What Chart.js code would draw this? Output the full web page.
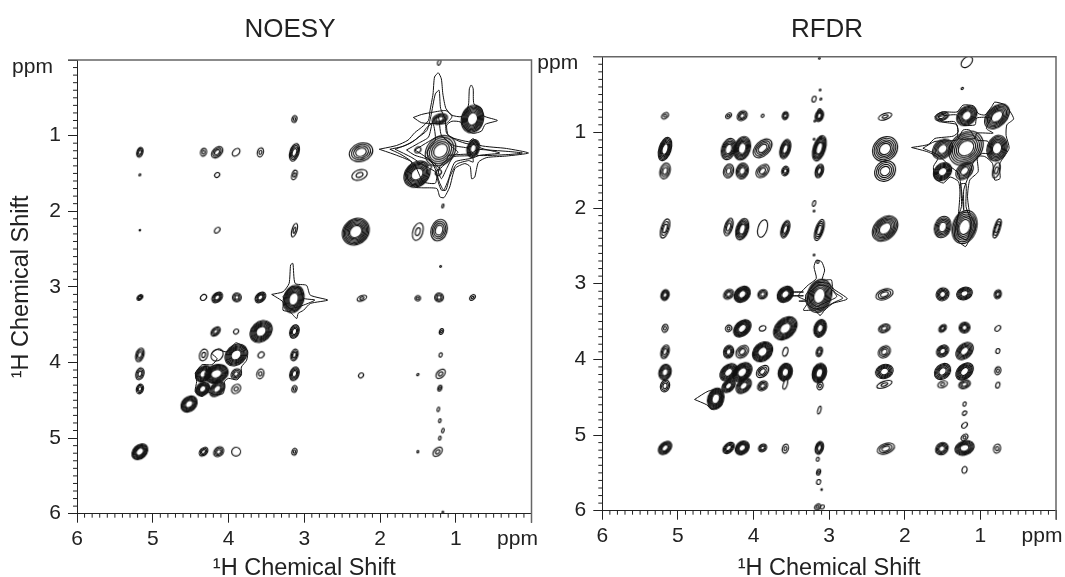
<!DOCTYPE html>
<html>
<head>
<meta charset="utf-8">
<title>NOESY / RFDR</title>
<script src="https://cdn.jsdelivr.net/npm/chart.js@4"></script>
<style>
html, body { margin: 0; padding: 0; background: #fff; overflow: hidden; width: 1065px; height: 577px; }
canvas { position: absolute; top: 0; }
#graficoNoesy { left: 0; }
#graficoRfdr { left: 534px; }
</style>
</head>
<body>
<canvas id="graficoNoesy" width="580" height="577"></canvas>
<canvas id="graficoRfdr" width="586" height="577"></canvas>
<script>
// axis values (ppm)
var majorTicks = [0, 1, 2, 3, 4, 5, 6];
var minorTicks = [];
for (var m = 0; m <= 60; m++) { if (m % 10) minorTicks.push(m / 10); }

// cross peaks: [F2 ppm, F1 ppm, half width F2, half width F1, contour levels]
var noesyPeaks = [
    [1.22, 0.03, 0.02, 0.04, 1],
    [3.13, 0.78, 0.033, 0.046, 2], [1.21, 0.78, 0.106, 0.066, 4], [0.78, 0.78, 0.145, 0.185, 7],
    [5.17, 1.22, 0.04, 0.066, 3], [4.33, 1.22, 0.04, 0.053, 2], [4.15, 1.22, 0.066, 0.08, 3],
    [3.9, 1.22, 0.046, 0.053, 1], [3.58, 1.22, 0.04, 0.06, 2], [3.13, 1.22, 0.06, 0.119, 4],
    [2.25, 1.22, 0.159, 0.119, 4], [1.2, 1.2, 0.2, 0.2, 5], [0.77, 1.17, 0.08, 0.119, 5], [1.5, 1.19, 0.04, 0.04, 1],
    [5.17, 1.52, 0.013, 0.013, 1], [4.15, 1.52, 0.033, 0.033, 1], [3.13, 1.52, 0.033, 0.066, 2],
    [2.27, 1.52, 0.106, 0.066, 2], [1.51, 1.51, 0.172, 0.172, 7], [1.23, 1.49, 0.04, 0.04, 1], [1.35, 1.42, 0.03, 0.03, 1],
    [1.17, 1.93, 0.013, 0.026, 1],
    [5.17, 2.25, 0.01, 0.01, 1], [4.15, 2.25, 0.033, 0.04, 1], [3.13, 2.25, 0.033, 0.092, 2],
    [2.32, 2.27, 0.185, 0.172, 7], [1.5, 2.27, 0.066, 0.119, 2], [1.22, 2.25, 0.106, 0.145, 4],
    [1.2, 2.73, 0.012, 0.012, 1],
    [5.17, 3.14, 0.033, 0.04, 3], [4.33, 3.14, 0.04, 0.04, 1], [4.15, 3.14, 0.066, 0.073, 4],
    [3.89, 3.14, 0.066, 0.053, 3], [3.58, 3.14, 0.066, 0.073, 4], [3.14, 3.16, 0.132, 0.185, 7],
    [2.24, 3.15, 0.066, 0.033, 2], [1.5, 3.15, 0.04, 0.033, 2], [1.22, 3.14, 0.066, 0.053, 3], [0.78, 3.14, 0.033, 0.04, 2],
    [4.17, 3.59, 0.053, 0.066, 3], [3.9, 3.59, 0.033, 0.033, 1], [3.57, 3.59, 0.145, 0.145, 7],
    [3.13, 3.59, 0.06, 0.092, 4], [1.19, 3.59, 0.026, 0.04, 2],
    [5.17, 3.9, 0.053, 0.092, 3], [4.33, 3.9, 0.053, 0.08, 2], [4.15, 3.9, 0.08, 0.08, 1], [3.9, 3.9, 0.145, 0.145, 7],
    [3.57, 3.9, 0.04, 0.04, 1], [3.13, 3.9, 0.046, 0.08, 3], [1.2, 3.9, 0.02, 0.03, 1],
    [5.17, 4.15, 0.053, 0.08, 3], [4.33, 4.15, 0.106, 0.106, 6], [4.16, 4.15, 0.159, 0.119, 7], [3.9, 4.15, 0.066, 0.066, 3],
    [3.58, 4.15, 0.046, 0.066, 2], [3.13, 4.15, 0.06, 0.092, 4], [2.25, 4.17, 0.033, 0.033, 1],
    [1.5, 4.16, 0.013, 0.016, 1], [1.2, 4.15, 0.053, 0.066, 2],
    [5.17, 4.35, 0.046, 0.066, 3], [4.34, 4.35, 0.092, 0.092, 6], [4.15, 4.35, 0.092, 0.106, 5], [3.9, 4.35, 0.06, 0.06, 2],
    [3.13, 4.35, 0.033, 0.046, 2], [1.21, 4.34, 0.026, 0.04, 2],
    [4.52, 4.55, 0.106, 0.106, 6],
    [1.23, 4.62, 0.016, 0.03, 1], [1.21, 4.77, 0.016, 0.026, 1], [1.17, 4.9, 0.016, 0.03, 1], [1.21, 5.0, 0.016, 0.026, 1],
    [5.17, 5.18, 0.1, 0.106, 6], [4.33, 5.18, 0.053, 0.06, 3], [4.13, 5.18, 0.066, 0.066, 3], [3.9, 5.18, 0.066, 0.053, 1],
    [3.13, 5.18, 0.033, 0.046, 2], [1.5, 5.18, 0.012, 0.016, 1], [1.24, 5.18, 0.053, 0.066, 2], [1.17, 5.98, 0.01, 0.014, 1]
];

var rfdrPeaks = [
    [3.13, 0.02, 0.012, 0.012, 1], [3.12, 0.44, 0.012, 0.012, 1], [3.2, 0.56, 0.026, 0.04, 1], [3.11, 0.56, 0.013, 0.013, 1],
    [3.13, 0.72, 0.02, 0.033, 1], [3.19, 0.85, 0.012, 0.012, 1], [1.24, 0.42, 0.013, 0.016, 1], [1.18, 0.07, 0.066, 0.08, 1],
    [5.17, 0.78, 0.04, 0.046, 2], [4.33, 0.78, 0.033, 0.04, 2], [4.15, 0.78, 0.066, 0.066, 3], [3.88, 0.78, 0.02, 0.02, 1],
    [3.58, 0.78, 0.04, 0.053, 3], [3.13, 0.78, 0.053, 0.08, 4],
    [2.26, 0.79, 0.092, 0.04, 2], [1.51, 0.79, 0.092, 0.053, 3], [1.18, 0.78, 0.132, 0.132, 6], [0.78, 0.79, 0.145, 0.172, 6],
    [3.2, 1.09, 0.012, 0.012, 1], [3.11, 1.07, 0.012, 0.016, 1],
    [5.17, 1.22, 0.08, 0.159, 6], [4.33, 1.22, 0.092, 0.145, 5], [4.15, 1.21, 0.106, 0.159, 6], [3.88, 1.21, 0.106, 0.132, 4],
    [3.58, 1.22, 0.066, 0.132, 5], [3.13, 1.21, 0.08, 0.172, 6],
    [2.26, 1.22, 0.172, 0.159, 5], [1.5, 1.22, 0.132, 0.132, 5], [1.19, 1.21, 0.225, 0.225, 6], [0.78, 1.21, 0.132, 0.172, 6],
    [5.17, 1.51, 0.066, 0.106, 3], [4.33, 1.51, 0.066, 0.092, 3], [4.15, 1.51, 0.08, 0.106, 4], [3.88, 1.51, 0.08, 0.092, 3],
    [3.58, 1.51, 0.046, 0.066, 3], [3.13, 1.51, 0.053, 0.092, 4],
    [2.26, 1.51, 0.145, 0.132, 4], [1.5, 1.52, 0.119, 0.119, 6], [1.21, 1.51, 0.106, 0.119, 4], [0.79, 1.5, 0.046, 0.106, 2],
    [3.2, 1.94, 0.02, 0.04, 1], [3.2, 2.04, 0.012, 0.012, 1],
    [5.17, 2.27, 0.053, 0.132, 3], [4.33, 2.25, 0.053, 0.119, 3], [4.15, 2.28, 0.08, 0.145, 5], [3.88, 2.27, 0.06, 0.119, 1],
    [3.58, 2.28, 0.053, 0.119, 4], [3.13, 2.29, 0.053, 0.145, 4],
    [2.26, 2.27, 0.159, 0.172, 6], [1.5, 2.25, 0.106, 0.145, 5], [1.21, 2.25, 0.159, 0.225, 6], [0.78, 2.27, 0.04, 0.132, 3],
    [3.15, 2.71, 0.016, 0.02, 1], [3.2, 2.62, 0.012, 0.012, 1],
    [5.17, 3.15, 0.053, 0.073, 4], [4.33, 3.14, 0.066, 0.066, 3], [4.15, 3.14, 0.106, 0.106, 7], [3.88, 3.14, 0.066, 0.06, 3],
    [3.58, 3.14, 0.106, 0.106, 7], [3.13, 3.16, 0.159, 0.225, 7],
    [2.27, 3.14, 0.119, 0.066, 3], [1.5, 3.14, 0.092, 0.08, 4], [1.21, 3.13, 0.106, 0.08, 5], [0.77, 3.14, 0.046, 0.06, 3],
    [5.17, 3.59, 0.04, 0.053, 2], [4.33, 3.59, 0.046, 0.04, 2], [4.15, 3.59, 0.106, 0.119, 7], [3.88, 3.59, 0.046, 0.033, 1],
    [3.58, 3.59, 0.145, 0.159, 7], [3.12, 3.59, 0.08, 0.119, 6],
    [2.27, 3.59, 0.08, 0.053, 3], [1.5, 3.59, 0.046, 0.053, 3], [1.21, 3.58, 0.08, 0.066, 4], [0.77, 3.59, 0.033, 0.04, 1],
    [5.17, 3.9, 0.053, 0.092, 3], [4.33, 3.9, 0.066, 0.086, 4], [4.15, 3.9, 0.08, 0.086, 3], [3.88, 3.9, 0.132, 0.132, 7],
    [3.58, 3.9, 0.033, 0.06, 1], [3.13, 3.9, 0.04, 0.066, 3],
    [2.27, 3.9, 0.08, 0.08, 3], [1.5, 3.89, 0.08, 0.08, 4], [1.21, 3.89, 0.106, 0.119, 5], [0.77, 3.89, 0.026, 0.033, 1],
    [5.17, 4.17, 0.08, 0.106, 5], [4.33, 4.17, 0.106, 0.119, 6], [4.15, 4.17, 0.119, 0.132, 7], [3.88, 4.16, 0.073, 0.086, 3],
    [3.58, 4.17, 0.092, 0.119, 7], [3.13, 4.18, 0.092, 0.132, 7],
    [2.27, 4.16, 0.119, 0.092, 5], [1.5, 4.16, 0.106, 0.106, 5], [1.21, 4.16, 0.106, 0.119, 6], [0.77, 4.15, 0.04, 0.053, 2],
    [5.17, 4.35, 0.06, 0.08, 3], [4.33, 4.35, 0.08, 0.092, 5], [4.13, 4.35, 0.092, 0.106, 5], [3.88, 4.35, 0.066, 0.066, 3],
    [3.58, 4.33, 0.026, 0.066, 1], [3.12, 4.35, 0.04, 0.053, 2],
    [2.27, 4.33, 0.106, 0.04, 2], [1.5, 4.33, 0.066, 0.04, 2], [1.21, 4.33, 0.08, 0.053, 3], [0.77, 4.34, 0.026, 0.04, 1],
    [4.5, 4.52, 0.106, 0.145, 7], [3.13, 4.67, 0.02, 0.053, 1],
    [1.21, 4.59, 0.02, 0.03, 1], [1.21, 4.71, 0.026, 0.03, 1], [1.21, 4.87, 0.033, 0.04, 1], [1.21, 5.03, 0.04, 0.046, 2],
    [5.17, 5.17, 0.08, 0.092, 5], [4.33, 5.17, 0.066, 0.08, 4], [4.15, 5.17, 0.092, 0.092, 6], [3.88, 5.17, 0.053, 0.053, 3],
    [3.58, 5.18, 0.04, 0.06, 2], [3.13, 5.17, 0.053, 0.086, 4],
    [2.25, 5.18, 0.119, 0.066, 3], [1.51, 5.18, 0.086, 0.08, 4], [1.21, 5.17, 0.132, 0.092, 6], [0.78, 5.18, 0.046, 0.06, 2],
    [1.21, 5.46, 0.033, 0.046, 1],
    [3.15, 5.32, 0.02, 0.026, 1], [3.14, 5.49, 0.026, 0.04, 2], [3.14, 5.62, 0.026, 0.033, 1], [3.1, 5.72, 0.01, 0.01, 1],
    [3.15, 5.95, 0.04, 0.04, 2], [3.09, 5.95, 0.026, 0.026, 1]
];

// outlines traced off the strong diagonal groups: [F2, F1, F2, F1, ...]
var noesyOuter = [2.01,1.18, 1.78,1.13, 1.63,1.06, 1.54,0.96, 1.45,0.89, 1.36,0.8, 1.34,0.67, 1.3,0.45, 1.28,0.225, 1.23,0.17, 1.19,0.25, 1.17,0.45, 1.13,0.64, 1.05,0.73, 0.93,0.75, 0.86,0.69, 0.83,0.58, 0.82,0.38, 0.795,0.33, 0.77,0.38, 0.76,0.58, 0.66,0.64, 0.63,0.74, 0.45,0.8, 0.61,0.85, 0.66,0.94, 0.77,0.97, 0.86,0.92, 0.94,0.82, 1.05,0.81, 1.12,0.86, 1.1,0.995, 1.01,1.04, 0.83,1.08, 0.77,1.04, 0.68,1.13, 0.33,1.17, 0.04,1.23, 0.33,1.27, 0.59,1.29, 0.7,1.35, 0.75,1.55, 0.79,1.57, 0.81,1.41, 0.88,1.37, 1.01,1.435, 1.08,1.68, 1.155,1.82, 1.21,1.81, 1.25,1.7, 1.45,1.69, 1.54,1.68, 1.67,1.52, 1.63,1.435, 1.58,1.35, 1.78,1.26];
var noesySecond = [1.8,1.18, 1.6,1.1, 1.49,1.02, 1.38,0.93, 1.33,0.75, 1.27,0.45, 1.22,0.4, 1.2,0.64, 1.14,0.78, 1.12,0.97, 0.99,1.06, 0.83,1.11, 0.77,1.06, 0.68,1.16, 0.42,1.23, 0.68,1.26, 0.79,1.3, 1.01,1.35, 1.1,1.59, 1.16,1.72, 1.21,1.63, 1.27,1.48, 1.43,1.39, 1.58,1.29];
var noesyThird = [1.65,1.19, 1.49,1.1, 1.36,1.02, 1.3,0.8, 1.23,0.75, 1.19,0.995, 1.03,1.13, 0.83,1.17, 0.81,1.26, 1.03,1.28, 1.12,1.435, 1.19,1.57, 1.25,1.435, 1.36,1.32, 1.54,1.26];
var noesyFourth = [1.54,1.19, 1.36,1.08, 1.25,1.02, 1.16,1.02, 1.05,1.15, 0.97,1.22, 1.05,1.28, 1.14,1.37, 1.21,1.435, 1.3,1.35, 1.43,1.26];
var noesyTop = [1.56,0.76, 1.45,0.72, 1.3,0.69, 1.13,0.67, 1.05,0.75, 1.13,0.84, 1.27,0.84, 1.45,0.83];
var noesyLobeLow = [1.1,1.26, 0.79,1.25, 0.77,1.35, 0.83,1.33, 0.99,1.38, 1.08,1.55, 1.13,1.72, 1.19,1.72, 1.24,1.57, 1.21,1.41, 1.12,1.32];
var noesyLobeLeft = [1.87,1.18, 1.69,1.14, 1.54,1.06, 1.43,0.96, 1.38,0.89, 1.3,0.84, 1.27,1.06, 1.38,1.22, 1.3,1.38, 1.25,1.5, 1.27,1.63, 1.43,1.61, 1.52,1.43, 1.6,1.33, 1.74,1.24];
var noesyTail = [0.72,1.18, 0.3,1.21, 0.12,1.23, 0.3,1.25, 0.72,1.26];
var noesyStarOuter = [3.43,3.1, 3.28,3.065, 3.2,2.955, 3.18,2.71, 3.15,2.69, 3.12,2.955, 2.97,2.98, 2.92,3.11, 2.69,3.175, 2.92,3.22, 3.01,3.31, 3.08,3.35, 3.1,3.42, 3.19,3.33, 3.28,3.31, 3.28,3.2];
var noesyStarInner = [3.28,3.13, 3.17,3.0, 3.06,3.02, 3.01,3.15, 2.86,3.175, 3.06,3.26, 3.19,3.285, 3.25,3.22];
var noesyCluster = [4.44,4.14, 4.35,4.03, 4.22,4.03, 4.15,3.95, 4.22,3.88, 4.15,3.83, 4.02,3.86, 3.9,3.74, 3.75,3.84, 3.76,3.97, 3.83,4.06, 3.83,4.165, 3.89,4.23, 4.0,4.21, 4.05,4.25, 4.07,4.41, 4.2,4.42, 4.27,4.39, 4.35,4.45, 4.44,4.385, 4.42,4.25];

var rfdrOuter = [1.91,1.2, 1.69,1.16, 1.6,1.08, 1.36,1.05, 1.29,0.99, 1.34,0.86, 1.54,0.86, 1.6,0.79, 1.51,0.73, 1.31,0.73, 1.23,0.64, 1.09,0.65, 1.03,0.75, 0.94,0.77, 0.85,0.66, 0.81,0.6, 0.67,0.64, 0.56,0.82, 0.65,0.9, 0.66,1.04, 0.62,1.21, 0.72,1.37, 0.75,1.43, 0.74,1.61, 0.81,1.63, 0.84,1.41, 0.94,1.32, 1.04,1.32, 1.03,1.52, 1.14,1.63, 1.17,1.85, 1.14,2.07, 1.06,2.25, 1.16,2.45, 1.2,2.51, 1.34,2.38, 1.29,2.07, 1.27,1.79, 1.29,1.65, 1.4,1.59, 1.49,1.67, 1.6,1.61, 1.62,1.45, 1.56,1.34, 1.69,1.26];
var rfdrSecond = [1.76,1.21, 1.6,1.12, 1.31,1.1, 1.23,0.97, 1.14,0.97, 1.05,1.1, 0.9,1.12, 0.85,1.28, 0.98,1.28, 1.09,1.39, 1.16,1.59, 1.22,1.76, 1.22,2.03, 1.25,1.76, 1.29,1.54, 1.4,1.45, 1.56,1.3];
var rfdrStem = [1.26,1.68, 1.19,1.68, 1.19,1.98, 1.12,2.2, 1.18,2.42, 1.29,2.36, 1.31,2.16, 1.25,1.98];
var rfdrTop = [1.56,0.79, 1.31,0.77, 1.23,0.9, 1.07,0.9, 1.05,0.81, 0.87,0.81, 0.92,0.95, 0.83,1.01, 1.05,1.01, 1.07,1.08, 1.29,1.08, 1.31,0.9, 1.51,0.86];
var rfdrStarOuter = [3.39,3.13, 3.28,3.02, 3.17,2.93, 3.2,2.78, 3.17,2.69, 3.1,2.71, 3.06,2.82, 3.09,2.95, 2.97,2.95, 2.95,3.06, 2.76,3.2, 2.95,3.26, 3.06,3.35, 3.12,3.42, 3.19,3.35, 3.34,3.35, 3.28,3.24, 3.41,3.17];
var rfdrStarMid = [3.17,2.98, 3.0,3.0, 2.92,3.12, 2.82,3.19, 2.92,3.24, 3.06,3.31, 3.2,3.33, 3.3,3.26, 3.31,3.15];
var rfdrStarInner = [3.28,3.13, 3.14,3.02, 3.01,3.04, 2.9,3.17, 3.03,3.24, 3.17,3.3, 3.25,3.24];
var rfdrBridgeA = [3.5,3.11, 3.34,3.11];
var rfdrBridgeB = [3.5,3.16, 3.34,3.16];
var rfdrBridgeC = [3.4,3.23, 3.3,3.23];
var rfdrSpike = [4.78,4.53, 4.6,4.42, 4.45,4.4, 4.42,4.6, 4.55,4.66, 4.62,4.6];

var corContorno = '#111';

// concentric rings of one peak, handed to Chart.js as the point image
function imagemPico(rx, ry, niveis) {
    var tela = document.createElement('canvas');
    var lado = Math.ceil(Math.max(rx, ry) * 2.3 + 6);
    tela.width = lado;
    tela.height = lado;
    var ctx = tela.getContext('2d');
    var giro = rx <= ry ? 0.3 : -0.35;
    // nearly round peaks still lean along the diagonal
    if (rx / ry > 0.8 && rx / ry < 1.25) {
        giro = 0.8;
        rx = rx * 0.88;
        ry = ry * 1.12;
    }
    ctx.strokeStyle = corContorno;
    ctx.lineWidth = 1.15;
    for (var i = 0; i < niveis; i++) {
        var f = niveis > 1 ? 1 - i * 0.55 / (niveis - 1) : 1;
        ctx.beginPath();
        ctx.ellipse(lado / 2, lado / 2, Math.max(rx * f, 0.6), Math.max(ry * f, 0.6), giro, 0, Math.PI * 2);
        if (i === niveis - 1) {
            ctx.fillStyle = '#fff';
            ctx.fill();
        }
        ctx.stroke();
    }
    return tela;
}

function estiloPico(contexto) {
    var p = contexto.raw;
    if (!p) return 'circle';
    var eixoX = contexto.chart.scales.x;
    var eixoY = contexto.chart.scales.y;
    var rx = Math.abs(eixoX.getPixelForValue(p.x + p.wx) - eixoX.getPixelForValue(p.x));
    var ry = Math.abs(eixoY.getPixelForValue(p.y + p.wy) - eixoY.getPixelForValue(p.y));
    return imagemPico(rx, ry, p.niveis);
}

function contorno(lista) {
    var pontos = [];
    for (var i = 0; i < lista.length; i += 2) {
        pontos.push({ x: lista[i], y: lista[i + 1] });
    }
    pontos.push({ x: lista[0], y: lista[1] });
    return {
        data: pontos,
        showLine: true,
        tension: 0.2,
        borderColor: corContorno,
        borderWidth: 1,
        pointRadius: 0
    };
}

// minor ticks, top and right frame lines, ppm labels
var molduraPlugin = {
    id: 'moldura',
    afterDraw: function(chart) {
        var ctx = chart.ctx;
        var area = chart.chartArea;
        ctx.save();
        ctx.strokeStyle = '#222';
        ctx.lineWidth = 1;
        minorTicks.forEach(function(v) {
            var px = chart.scales.x.getPixelForValue(v);
            var py = chart.scales.y.getPixelForValue(v);
            ctx.beginPath();
            ctx.moveTo(px, area.bottom);
            ctx.lineTo(px, area.bottom + 4);
            ctx.moveTo(area.left, py);
            ctx.lineTo(area.left - 4, py);
            ctx.stroke();
        });
        ctx.strokeStyle = '#666';
        ctx.lineWidth = 1.5;
        ctx.beginPath();
        ctx.moveTo(area.left - 9, area.top);
        ctx.lineTo(area.right, area.top);
        ctx.lineTo(area.right, area.bottom + 9);
        ctx.stroke();
        ctx.fillStyle = '#222';
        ctx.font = '21px "Liberation Sans"';
        ctx.textAlign = 'center';
        ctx.textBaseline = 'middle';
        ctx.fillText('ppm', area.left - 44.5, area.top + 7);
        ctx.fillText('ppm', area.right - 14, area.bottom + 26);
        ctx.restore();
    }
};

function criarGrafico(id, titulo, picos, contornos, medidas) {
    var conjuntos = contornos.map(contorno);
    conjuntos.push({
        data: picos.map(function(p) {
            return { x: p[0], y: p[1], wx: p[2], wy: p[3], niveis: p[4] };
        }),
        pointStyle: estiloPico,
        pointRadius: 1,
        borderWidth: 0
    });
    var fonteTick = { family: 'Liberation Sans', size: 21 };
    var fonteEixo = { family: 'Liberation Sans', size: 23.5, lineHeight: 1 };

    function rotulo(valor) {
        return valor === 0 ? '' : valor;
    }

    return new Chart(document.getElementById(id).getContext('2d'), {
        type: 'scatter',
        data: { datasets: conjuntos },
        options: {
            responsive: false,
            animation: false,
            events: [],
            plugins: {
                legend: { display: false },
                tooltip: { enabled: false },
                title: {
                    display: true,
                    text: titulo,
                    color: '#222',
                    font: { family: 'Liberation Sans', size: 26, weight: 'normal', lineHeight: 1.2 },
                    padding: { top: 14.4, bottom: medidas.topo - 14.4 - 31.2 }
                }
            },
            scales: {
                x: {
                    type: 'linear',
                    reverse: true,
                    min: 0,
                    max: 6,
                    afterFit: function(eixo) { eixo.height = medidas.baixo; },
                    afterBuildTicks: function(eixo) {
                        eixo.ticks = majorTicks.map(function(v) { return { value: v }; });
                    },
                    border: { color: '#222', width: 1 },
                    grid: { drawOnChartArea: false, tickLength: 9, tickColor: '#222', tickWidth: 1 },
                    ticks: { maxRotation: 0, autoSkip: false, color: '#222', font: fonteTick, padding: 4, callback: rotulo },
                    title: {
                        display: true,
                        text: '\u00b9H Chemical Shift',
                        color: '#222',
                        font: fonteEixo,
                        padding: { top: 0, bottom: -3 }
                    }
                },
                y: {
                    type: 'linear',
                    reverse: true,
                    min: 0,
                    max: 6,
                    afterFit: function(eixo) { eixo.width = medidas.esquerda; },
                    afterBuildTicks: function(eixo) {
                        eixo.ticks = majorTicks.map(function(v) { return { value: v }; });
                    },
                    border: { color: '#222', width: 1 },
                    grid: { drawOnChartArea: false, tickLength: 9, tickColor: '#222', tickWidth: 1 },
                    ticks: { autoSkip: false, color: '#222', font: fonteTick, padding: 7, callback: rotulo },
                    title: {
                        display: medidas.comTituloY,
                        text: '\u00b9H Chemical Shift',
                        color: '#222',
                        font: fonteEixo,
                        padding: { top: 10, bottom: 0 }
                    }
                },
                // empty axis, only keeps the plot clear of the extra canvas width on the right
                margem: {
                    position: 'right',
                    ticks: { display: false },
                    grid: { display: false },
                    border: { display: false },
                    afterFit: function(eixo) { eixo.width = medidas.direita; }
                }
            }
        },
        plugins: [molduraPlugin]
    });
}

criarGrafico('graficoNoesy', 'NOESY', noesyPeaks,
    [noesyOuter, noesySecond, noesyThird, noesyFourth, noesyTop, noesyLobeLow, noesyLobeLeft, noesyTail, noesyStarOuter, noesyStarInner, noesyCluster],
    { esquerda: 77, direita: 48.5, topo: 60, baixo: 63.3, comTituloY: true });

criarGrafico('graficoRfdr', 'RFDR', rfdrPeaks,
    [rfdrOuter, rfdrSecond, rfdrStem, rfdrTop, rfdrStarOuter, rfdrStarMid, rfdrStarInner, rfdrBridgeA, rfdrBridgeB, rfdrBridgeC, rfdrSpike],
    { esquerda: 68.3, direita: 64, topo: 56.7, baixo: 66.3, comTituloY: false });
</script>
</body>
</html>
